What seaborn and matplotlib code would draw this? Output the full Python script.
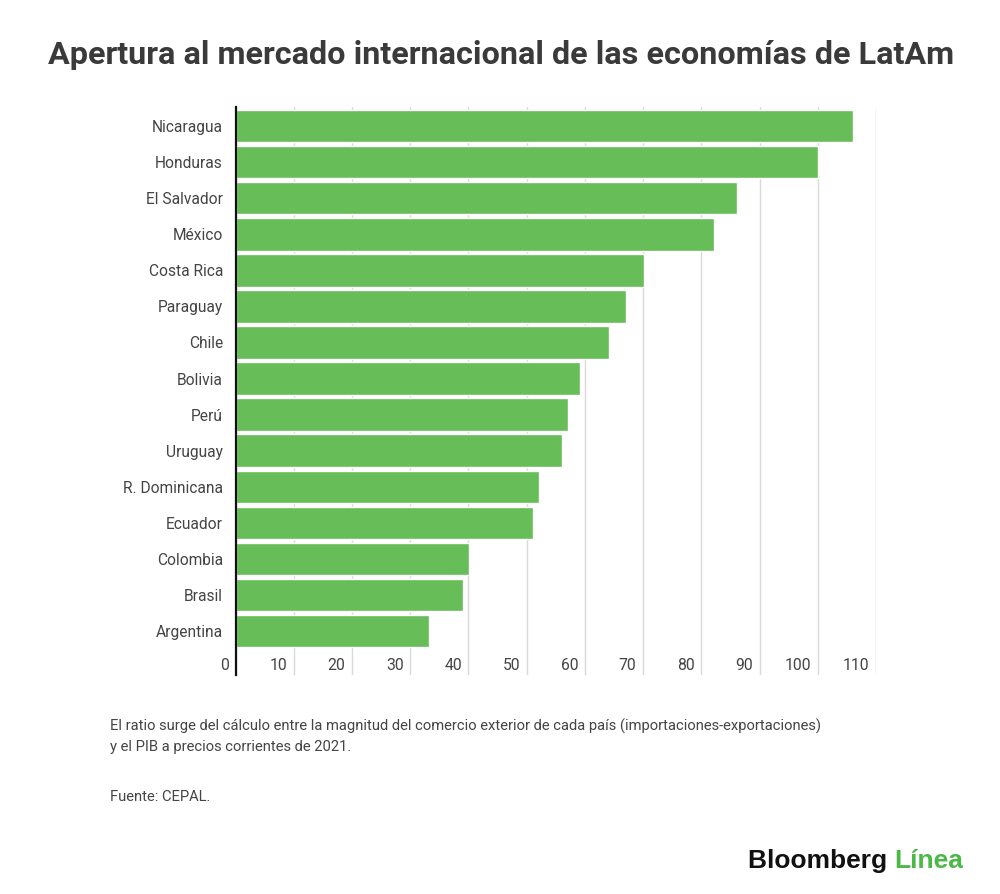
import matplotlib.pyplot as plt
import seaborn as sns
from matplotlib.transforms import offset_copy

# Data
countries = ["Nicaragua", "Honduras", "El Salvador", "México", "Costa Rica",
             "Paraguay", "Chile", "Bolivia", "Perú", "Uruguay",
             "R. Dominicana", "Ecuador", "Colombia", "Brasil", "Argentina"]
openness = [106.1, 100.1, 86.1, 82.1, 70.1, 67.1, 64.1, 59.1, 57.1, 56.1,
            52.1, 51.1, 40.1, 39.1, 33.2]
x_ticks = [0, 10, 20, 30, 40, 50, 60, 70, 80, 90, 100, 110]

title = "Apertura al mercado internacional de las economías de LatAm"
note = ("El ratio surge del cálculo entre la magnitud del comercio exterior de cada país "
        "(importaciones-exportaciones)\ny el PIB a precios corrientes de 2021.")
source = "Fuente: CEPAL."

bar_green = "#67BD58"
text_grey = "#444444"

sns.set_style("white")
plt.rcParams['font.family'] = ['Roboto', 'DejaVu Sans']

fig = plt.figure(figsize=(10, 8.94), dpi=100)
ax = fig.add_axes([0.2355, 0.245, 0.6405, 0.6353])

sns.barplot(x=openness, y=countries, color=bar_green, width=0.9,
            orient="h", saturation=1, ax=ax, zorder=2)

ax.set_xlim(0, 110)
ax.set_ylim(15.22, -0.53)
ax.set_xlabel("")
ax.set_ylabel("")

# gridlines
ax.set_xticks(x_ticks)
ax.xaxis.grid(True, color="#d9d9d9", linewidth=1)
ax.yaxis.grid(False)
ax.set_axisbelow(True)
ax.set_xticklabels([])
ax.tick_params(axis="x", length=0)

# x tick labels sit inside the plot, to the left of each gridline
lab_tr = offset_copy(ax.get_xaxis_transform(), fig=fig, x=-6.5, y=0, units="dots")
for v in x_ticks:
    ax.text(v, 0.017, str(v), transform=lab_tr, ha="right", va="center",
            fontsize=11.3, color=text_grey)

ax.tick_params(axis="y", length=0, pad=9, labelsize=11.2, labelcolor=text_grey)

for side in ["top", "right", "bottom"]:
    ax.spines[side].set_visible(False)
ax.spines["left"].set_color("#111111")
ax.spines["left"].set_linewidth(1.6)
ax.spines["left"].set_zorder(3)

fig.text(0.501, 0.938, title, ha="center", va="center", fontsize=23.3,
         fontweight="bold", color="#3a3a3a")
fig.text(0.11, 0.196, note, ha="left", va="top", fontsize=10.6,
         color=text_grey, linespacing=1.5)
fig.text(0.11, 0.109, source, ha="left", va="center", fontsize=10.6, color=text_grey)

# logo
logo = fig.text(0.748, 0.037, "Bloomberg ", ha="left", va="center", fontsize=19,
                fontweight="bold", color="#111111", family="Liberation Sans")
fig.canvas.draw()
bb = logo.get_window_extent()
fig.text(bb.x1 / fig.bbox.width, 0.037, "Línea", ha="left", va="center",
         fontsize=19, fontweight="bold", color="#4cb847", family="Liberation Sans")

fig.savefig("out.png", dpi=100)
